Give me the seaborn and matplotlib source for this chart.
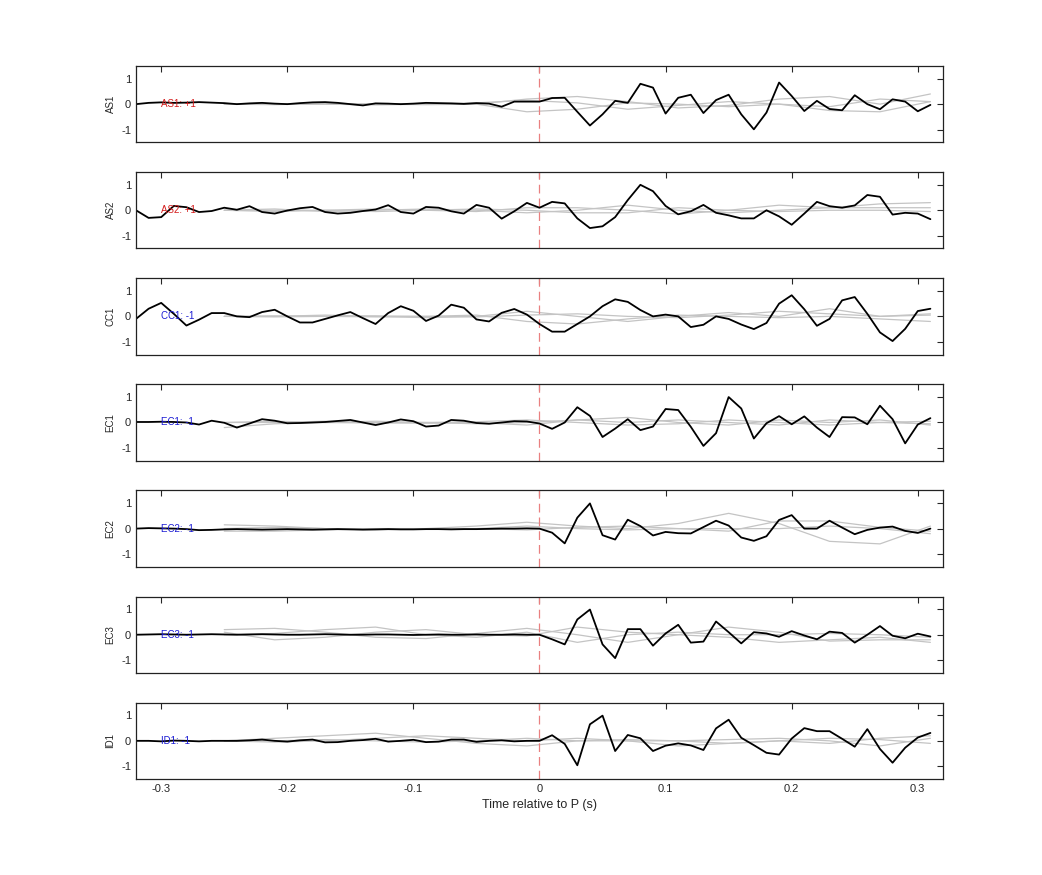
import numpy as np
import pandas as pd
import matplotlib
matplotlib.use("Agg")
import matplotlib.pyplot as plt
import seaborn as sns

# ---- data ----
t = np.round(np.arange(-0.32, 0.3101, 0.01), 2)
t_gray = np.round(np.arange(-0.25, 0.3201, 0.04), 2)

channels = ["AS1", "AS2", "CC1", "EC1", "EC2", "EC3", "ID1"]
polarity = ["+1", "+1", "-1", "-1", "-1", "-1", "-1"]

as1 = [0.0, 0.05, 0.07, 0.05, 0.06, 0.08, 0.06, 0.04, 0.0, 0.03, 0.05, 0.02, 0.0, 0.04, 0.07, 0.08, 0.05, 0.0,
       -0.05, 0.03, 0.02, 0.0, 0.02, 0.05, 0.04, 0.03, 0.01, 0.04, 0.02, -0.1, 0.1, 0.1,
       0.1, 0.24, 0.25, -0.3, -0.84, -0.4, 0.13, 0.05, 0.8, 0.65, -0.37, 0.25, 0.37, -0.35, 0.16,
       0.37, -0.4, -0.99, -0.33, 0.85, 0.32, -0.27, 0.13, -0.19, -0.24, 0.35, 0.0, -0.2, 0.19, 0.1,
       -0.28, -0.03]
as2 = [0.0, -0.3, -0.27, 0.17, 0.12, -0.07, -0.03, 0.1, 0.02, 0.16, -0.07, -0.13, -0.01, 0.08, 0.13, -0.07,
       -0.13, -0.1, -0.03, 0.03, 0.2, -0.07, -0.13, 0.13, 0.1, -0.04, -0.13, 0.21, 0.1, -0.33, -0.04, 0.29,
       0.1, 0.33, 0.27, -0.32, -0.7, -0.63, -0.27, 0.4, 1.0, 0.75, 0.17, -0.16, -0.04, 0.21, -0.1, -0.2, -0.32,
       -0.32, 0.0, -0.24, -0.57, -0.13, 0.33, 0.16, 0.1, 0.19, 0.6, 0.53, -0.17, -0.1, -0.13, -0.35]
cc1 = [-0.1, 0.3, 0.53, 0.1, -0.36, -0.13, 0.13, 0.13, 0.0, -0.03, 0.17, 0.26, 0.0, -0.24, -0.24, -0.1, 0.04,
       0.17, -0.07, -0.3, 0.13, 0.4, 0.22, -0.18, 0.03, 0.46, 0.34, -0.12, -0.2, 0.14, 0.29, 0.07,
       -0.3, -0.6, -0.6, -0.3, 0.0, 0.4, 0.67, 0.57, 0.25, 0.0, 0.07, 0.0, -0.42, -0.33, 0.0, -0.1, -0.32,
       -0.5, -0.26, 0.5, 0.83, 0.28, -0.37, -0.1, 0.63, 0.76, 0.1, -0.63, -0.97, -0.49, 0.21, 0.3]
ec1 = [0.02, 0.02, 0.03, 0.02, 0.0, -0.08, 0.07, -0.01, -0.2, -0.04, 0.13, 0.07, -0.03, -0.02, 0.0, 0.02,
       0.06, 0.1, 0.0, -0.1, 0.0, 0.12, 0.05, -0.16, -0.12, 0.1, 0.07, -0.02, -0.05, 0.0, 0.05, 0.04,
       -0.04, -0.25, 0.0, 0.6, 0.26, -0.57, -0.24, 0.13, -0.3, -0.16, 0.53, 0.49, -0.17, -0.92, -0.42, 1.0,
       0.55, -0.63, -0.03, 0.25, -0.07, 0.24, -0.2, -0.57, 0.21, 0.2, -0.07, 0.66, 0.13, -0.82, -0.08, 0.17]
ec2 = [0.0, 0.02, 0.01, 0.0, -0.02, -0.06, -0.05, -0.03, -0.02, -0.03, -0.04, -0.03, -0.02, -0.03, -0.04,
       -0.03, -0.02, -0.03, -0.04, -0.03, -0.02, -0.03, -0.03, -0.02, -0.02, -0.03, -0.02, -0.02, -0.01, 0.0,
       0.0, 0.01, 0.0, -0.16, -0.58, 0.43, 0.99, -0.26, -0.43, 0.35, 0.1, -0.27, -0.13, -0.18, -0.19, 0.06,
       0.31, 0.12, -0.35, -0.48, -0.3, 0.34, 0.53, 0.0, 0.0, 0.31, 0.04, -0.22, -0.05, 0.04, 0.08, -0.09, -0.17,
       0.0]
ec3 = [0.0, 0.01, 0.02, 0.01, 0.0, 0.01, 0.02, 0.01, 0.0, 0.01, 0.02, 0.01, 0.0, 0.0, 0.01, 0.02, 0.01,
       0.0, 0.0, 0.01, 0.01, 0.0, -0.01, 0.0, 0.01, 0.0, 0.0, 0.01, 0.0, 0.0, 0.01, 0.0,
       0.0, -0.18, -0.38, 0.6, 0.99, -0.38, -0.92, 0.22, 0.22, -0.43, 0.05, 0.39, -0.31, -0.27, 0.52, 0.1,
       -0.34, 0.1, 0.05, -0.08, 0.14, -0.03, -0.18, 0.12, 0.07, -0.31, 0.0, 0.34, -0.04, -0.14, 0.04, -0.07]
id1 = [0.0, 0.0, -0.02, 0.01, 0.0, -0.02, 0.0, 0.0, 0.0, 0.02, 0.05, 0.0, -0.03, 0.02, 0.05, -0.06, -0.05,
       0.0, 0.03, 0.08, -0.03, 0.0, 0.04, -0.05, -0.03, 0.05, 0.05, -0.04, 0.0, 0.02, -0.02, 0.0,
       0.0, 0.22, -0.12, -0.96, 0.65, 0.99, -0.4, 0.23, 0.1, -0.4, -0.19, -0.1, -0.18, -0.36, 0.49, 0.83, 0.12,
       -0.17, -0.47, -0.54, 0.09, 0.5, 0.38, 0.38, 0.08, -0.23, 0.46, -0.32, -0.86, -0.27, 0.13, 0.31]
black = [as1, as2, cc1, ec1, ec2, ec3, id1]

# three gray traces per channel, sampled every 0.04 s from -0.25
gray = [
    [[0.0, 0.02, 0.0, -0.03, 0.0, 0.05, 0.15, 0.05, -0.2, -0.05, 0.1, 0.0, -0.1, 0.2, 0.1],
     [0.0, -0.02, 0.02, 0.0, -0.02, 0.0, 0.2, 0.3, 0.1, -0.15, -0.05, 0.2, 0.3, 0.0, 0.4],
     [0.0, 0.0, 0.0, 0.02, 0.0, 0.0, -0.3, -0.2, 0.05, 0.0, -0.1, 0.0, -0.25, -0.3, 0.1]],
    [[0.0, -0.05, 0.0, 0.05, 0.0, -0.05, 0.1, 0.1, 0.0, -0.15, 0.0, 0.2, 0.1, 0.25, 0.3],
     [0.0, 0.05, -0.05, 0.0, 0.05, 0.0, -0.1, 0.0, 0.2, 0.0, -0.1, 0.0, 0.1, 0.1, 0.1],
     [0.0, 0.0, 0.0, -0.05, 0.0, 0.05, 0.0, -0.1, -0.1, 0.1, 0.0, -0.05, 0.0, 0.0, -0.05]],
    [[0.0, 0.0, 0.05, 0.0, -0.05, 0.0, 0.2, 0.0, -0.2, 0.0, 0.15, 0.0, 0.3, 0.0, 0.1],
     [0.0, 0.02, 0.0, -0.02, 0.0, 0.05, -0.2, -0.3, -0.1, 0.05, 0.0, -0.05, 0.0, -0.1, -0.2],
     [0.0, -0.02, 0.0, 0.02, 0.0, -0.02, 0.05, 0.1, 0.0, -0.05, 0.05, 0.2, 0.1, 0.0, 0.05]],
    [[-0.2, -0.05, 0.0, 0.05, 0.0, -0.05, 0.0, 0.1, 0.2, 0.0, -0.1, 0.1, 0.0, 0.1, -0.1],
     [0.0, 0.05, 0.0, -0.02, 0.0, 0.03, 0.1, 0.0, -0.1, -0.05, 0.1, 0.0, -0.1, 0.0, 0.05],
     [0.0, 0.0, 0.05, 0.0, -0.03, 0.0, -0.1, 0.1, 0.0, 0.1, 0.0, -0.1, 0.1, 0.0, -0.05]],
    [[0.15, 0.1, 0.0, -0.05, 0.0, 0.1, 0.25, 0.1, 0.0, 0.2, 0.6, 0.2, -0.5, -0.6, 0.1],
     [-0.1, -0.1, -0.05, 0.0, 0.0, 0.0, -0.05, 0.05, 0.1, 0.0, -0.1, 0.3, 0.3, 0.05, -0.1],
     [0.0, 0.05, 0.0, 0.0, 0.0, 0.0, 0.1, 0.0, -0.05, 0.0, 0.0, 0.0, 0.1, 0.0, -0.2]],
    [[0.2, 0.25, 0.1, -0.1, -0.15, 0.05, 0.25, 0.0, -0.3, 0.0, 0.3, 0.1, -0.25, -0.2, -0.2],
     [0.1, -0.2, -0.1, 0.1, 0.2, 0.0, -0.05, 0.3, 0.1, 0.0, -0.1, -0.3, -0.2, -0.1, -0.3],
     [0.0, 0.05, 0.2, 0.3, 0.0, -0.1, 0.1, -0.3, 0.0, 0.1, 0.0, 0.0, 0.05, 0.0, -0.1]],
    [[0.0, 0.1, 0.2, 0.3, 0.1, -0.1, -0.2, 0.0, 0.0, 0.0, 0.05, 0.1, 0.0, -0.2, 0.1],
     [0.0, -0.05, 0.0, 0.1, 0.2, 0.1, 0.0, 0.1, 0.0, -0.2, -0.1, 0.0, 0.1, 0.05, -0.1],
     [0.0, 0.0, 0.05, 0.0, -0.05, 0.0, 0.1, 0.0, 0.05, 0.0, -0.1, 0.0, -0.1, 0.1, 0.2]],
]

# ---- plot ----
sns.set_style("white")
plt.rcParams["font.family"] = ["Liberation Sans", "DejaVu Sans"]
plt.rcParams["axes.unicode_minus"] = False
fig, axes = plt.subplots(7, 1, figsize=(10.42, 8.75), dpi=100, sharex=True,
                         gridspec_kw=dict(hspace=0.39))
fig.subplots_adjust(left=0.1305, right=0.905, top=0.9246, bottom=0.1097)

for i, ax in enumerate(axes):
    for g in gray[i]:
        sns.lineplot(x=t_gray, y=g, ax=ax, color="#c4c4c4", lw=0.9)
    ax.axvline(0, color="#e98080", lw=0.9, ls=(0, (7, 4)))
    df = pd.DataFrame({"t": t, "v": black[i]})
    sns.lineplot(data=df, x="t", y="v", ax=ax, color="black", lw=1.3)
    col = "#d41c1c" if polarity[i] == "+1" else "#1c1cd4"
    ax.text(-0.3, 0, f"{channels[i]}: {polarity[i]}", color=col, fontsize=7, va="center")
    ax.set_xlim(-0.32, 0.32)
    ax.set_ylim(-1.5, 1.5)
    ax.set_yticks([-1, 0, 1])
    ax.set_ylabel(channels[i], fontsize=7)
    ax.set_xlabel("")
    ax.tick_params(direction="in", top=True, right=True, labelsize=8, length=4, width=0.8)
    for s in ax.spines.values():
        s.set_color("#222222")
        s.set_linewidth(0.9)

axes[-1].set_xticks([-0.3, -0.2, -0.1, 0, 0.1, 0.2, 0.3])
axes[-1].set_xticklabels(["-0.3", "-0.2", "-0.1", "0", "0.1", "0.2", "0.3"])
axes[-1].set_xlabel("Time relative to P (s)", fontsize=9)

plt.savefig("out.png", dpi=100)
